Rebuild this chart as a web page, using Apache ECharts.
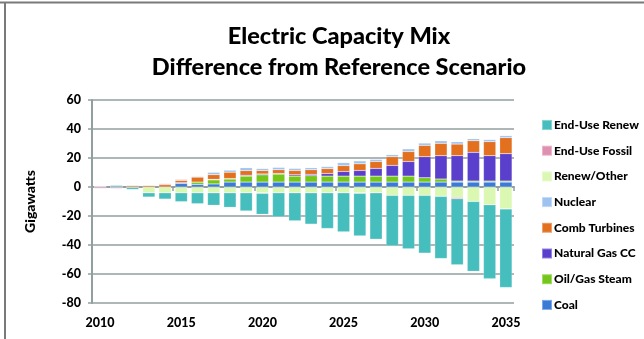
<!DOCTYPE html>
<html>
<head>
<meta charset="utf-8">
<script src="https://cdn.jsdelivr.net/npm/echarts@6/dist/echarts.min.js"></script>
<style>
  html, body { margin: 0; padding: 0; background: #fff; }
  #chart { width: 644px; height: 339px; }
</style>
</head>
<body>
<div id="chart"></div>
<script>
// Capacity difference vs. reference scenario, in gigawatts, 2010-2035
const years = ['2010','2011','2012','2013','2014','2015','2016','2017','2018','2019','2020','2021','2022',
               '2023','2024','2025','2026','2027','2028','2029','2030','2031','2032','2033','2034','2035'];

const coal        = [0, 0, 0, 0, 0, 2.5, 1.8, 2.1, 3.4, 3.4, 3.4, 3.4, 3.4, 3.4, 3.4, 3.4, 3.4, 3.4, 3.4, 3.4, 3.4, 3.4, 3.4, 3.4, 3.4, 3.4];
const oilGasSteam = [0, 0, 0, 0, 0, 0, 1.6, 2.8, 2.1, 4.1, 5.0, 5.5, 4.1, 4.4, 4.1, 4.1, 4.1, 4.1, 4.1, 4.1, 3.0, 2.1, 0.7, 0.7, 0.7, 0.7];
const naturalGasCC= [0, 0, 0, 0, 0, 0.5, 0, 0.4, 0.3, 0.6, 0.6, 0.5, 0.9, 0.9, 1.8, 3.2, 3.9, 5.3, 7.4, 10.1, 14.5, 16.1, 17.5, 19.8, 17.5, 18.9];
const combTurbines= [0, 0, 1.0, 1.0, 1.6, 1.6, 3.4, 3.2, 4.4, 3.2, 2.3, 2.5, 3.0, 3.2, 3.4, 4.1, 4.6, 4.8, 6.0, 6.9, 7.8, 8.5, 8.0, 8.0, 9.7, 11.0];
const nuclear     = [0, 0, 0, 0, 0, 0, 0.5, 1.6, 1.4, 2.0, 1.4, 1.6, 1.4, 1.4, 1.4, 2.0, 2.0, 1.4, 1.4, 1.8, 1.6, 1.8, 1.6, 1.4, 1.4, 1.4];
const renewOther  = [0, 0, -0.3, -4, -4, -4, -4, -4, -4, -4, -4, -4, -4, -4, -4, -4, -4, -4, -5.8, -5.8, -5.8, -6.5, -7.2, -10, -12.3, -15.1];
const endUseFossil= [-1.0, -1.0, 0, 0, 0.7, 0.6, 0, 0, 0, 0, -0.4, 0, 0, 0, 0, 0, -0.4, 0, 0, 0, 0, 0, -0.9, 0, 0, 0];
const endUseRenew = [0, 1.1, -1.4, -2.9, -4.3, -6.1, -7.5, -8.6, -10.0, -12.5, -14.4, -16.5, -19.3, -21.6, -24.6, -26.9, -29.3, -32.0, -34.7, -36.8, -39.8, -42.8, -45.6, -48.1, -50.9, -54.2];

const yTicks = { min: -80, max: 60, interval: 20 };

const seriesDefs = [
  { name: 'Coal',           data: coal,         color: '#3b7bd8' },
  { name: 'Oil/Gas Steam',  data: oilGasSteam,  color: '#74c61b' },
  { name: 'Natural Gas CC', data: naturalGasCC, color: '#5a3fcc' },
  { name: 'Comb Turbines',  data: combTurbines, color: '#e2701f' },
  { name: 'Nuclear',        data: nuclear,      color: '#9ec3f0' },
  { name: 'Renew/Other',    data: renewOther,   color: '#dbf8b3' },
  { name: 'End-Use Fossil', data: endUseFossil, color: '#df8fb0' },
  { name: 'End-Use Renew',  data: endUseRenew,  color: '#46bebe' }
];

const FONT = 'Lato, "Open Sans", sans-serif';
const GRID_COLOR = '#929fa1';

const chart = echarts.init(document.getElementById('chart'), null, { renderer: 'canvas' });

chart.setOption({
  animation: false,
  backgroundColor: '#fff',
  textStyle: { fontFamily: FONT },
  title: {
    text: 'Electric Capacity Mix\nDifference from Reference Scenario',
    left: 334,
    top: 16,
    textAlign: 'center',
    textStyle: { fontFamily: FONT, fontWeight: 900, fontSize: 23.5, lineHeight: 31, color: '#000' }
  },
  legend: {
    orient: 'vertical',
    left: 541,
    top: 119,
    padding: 0,
    itemWidth: 10,
    itemHeight: 10,
    itemGap: 13.7,
    icon: 'rect',
    data: seriesDefs.map(s => s.name).reverse(),
    textStyle: { fontFamily: FONT, fontWeight: 900, fontSize: 12, color: '#000', padding: [0, 0, 0, -3] }
  },
  grid: { left: 92, right: 130, top: 100, bottom: 36 },
  xAxis: [
    {
      type: 'category',
      data: years,
      position: 'bottom',
      axisLine: { show: false, onZero: false },
      axisTick: { show: false },
      axisLabel: { interval: 4, margin: 13, fontFamily: FONT, fontWeight: 900, fontSize: 12.5, color: '#000' }
    },
    {
      type: 'category',
      data: years,
      position: 'bottom',
      axisLine: { show: true, onZero: true, lineStyle: { color: GRID_COLOR, width: 2 } },
      axisTick: { show: true, interval: 4, length: 4, lineStyle: { color: GRID_COLOR, width: 1.5 } },
      axisLabel: { show: false }
    }
  ],
  yAxis: {
    type: 'value',
    min: yTicks.min,
    max: yTicks.max,
    interval: yTicks.interval,
    name: 'Gigawatts',
    nameLocation: 'middle',
    nameGap: 55,
    nameTextStyle: { fontFamily: FONT, fontWeight: 900, fontSize: 14, color: '#000' },
    axisLine: { show: true, lineStyle: { color: GRID_COLOR, width: 2 } },
    axisTick: { show: true, length: 4, lineStyle: { color: GRID_COLOR, width: 1.5 } },
    axisLabel: { margin: 11, fontFamily: FONT, fontWeight: 900, fontSize: 12.5, color: '#000' },
    splitLine: { show: true, lineStyle: { color: GRID_COLOR, width: 1.5 } }
  },
  series: seriesDefs.map(s => ({
    name: s.name,
    type: 'bar',
    stack: 'mix',
    xAxisIndex: 0,
    barWidth: '76%',
    data: s.data,
    itemStyle: { color: s.color, borderColor: 'rgba(255,255,255,0.35)', borderWidth: 0.5 },
    emphasis: { disabled: true }
  })),
  graphic: [
    { type: 'line', shape: { x1: 0, y1: 2.5, x2: 644, y2: 2.5 }, style: { stroke: '#7a7a7a', lineWidth: 2 } },
    { type: 'line', shape: { x1: 5, y1: 2, x2: 5, y2: 339 }, style: { stroke: '#7a7a7a', lineWidth: 2 } }
  ]
});
</script>
</body>
</html>
